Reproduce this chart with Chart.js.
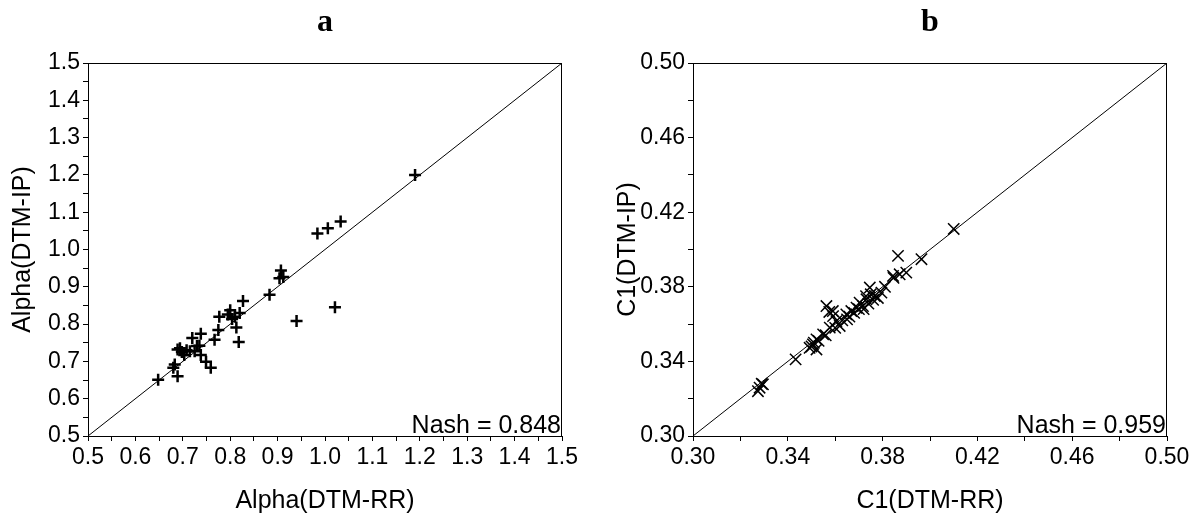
<!DOCTYPE html>
<html><head><meta charset="utf-8">
<script src="https://cdn.jsdelivr.net/npm/chart.js@4.4.1/dist/chart.umd.min.js"></script>
<style>
html,body{margin:0;padding:0;background:#fff;width:1203px;height:517px;overflow:hidden}
canvas{position:absolute;top:0}
#ca{left:0}
#cb{left:605px}
</style></head><body>
<canvas id="ca" width="600" height="517"></canvas>
<canvas id="cb" width="598" height="517"></canvas>
<script>
// ---- Panel a data: Alpha ----
const alphaRR = [1.19, 0.984, 1.006, 1.033, 0.907, 0.904, 0.912, 0.883, 0.940, 1.021,
  0.827, 0.820, 0.800, 0.804, 0.813, 0.818, 0.777, 0.775, 0.767, 0.738,
  0.720, 0.735, 0.738, 0.749, 0.759, 0.689, 0.698, 0.708, 0.715, 0.683,
  0.680, 0.689, 0.648, 0.703, 0.730, 0.795, 0.810, 0.694, 0.725];
const alphaIP = [1.20, 1.043, 1.057, 1.075, 0.944, 0.923, 0.926, 0.879, 0.808, 0.845,
  0.862, 0.830, 0.837, 0.814, 0.791, 0.752, 0.820, 0.784, 0.758, 0.774,
  0.763, 0.742, 0.717, 0.699, 0.683, 0.732, 0.725, 0.730, 0.727, 0.692,
  0.683, 0.660, 0.651, 0.717, 0.741, 0.826, 0.820, 0.735, 0.727];
// ---- Panel b data: C1 ----
const c1RR = [0.3865, 0.3964, 0.410, 0.3844, 0.3872, 0.390, 0.3846, 0.3746, 0.3795, 0.3767,
  0.3732, 0.3703, 0.3717, 0.369, 0.3668, 0.3647, 0.3563, 0.3591, 0.3605, 0.3619,
  0.3577, 0.3549, 0.3521, 0.3506, 0.3492, 0.3521, 0.3433, 0.3281, 0.3295, 0.3274,
  0.359, 0.374, 0.372, 0.376, 0.378, 0.366, 0.363, 0.370, 0.351, 0.350,
  0.353, 0.356, 0.368, 0.375, 0.381, 0.373, 0.329, 0.360, 0.365, 0.3575];
const c1IP = [0.3966, 0.3948, 0.411, 0.3858, 0.3867, 0.3876, 0.3848, 0.3796, 0.3769, 0.3751,
  0.3733, 0.3715, 0.3697, 0.3688, 0.367, 0.3652, 0.3697, 0.3643, 0.3616, 0.359,
  0.3581, 0.3545, 0.3518, 0.3491, 0.3473, 0.3464, 0.3411, 0.3259, 0.3277, 0.324,
  0.367, 0.371, 0.368, 0.373, 0.374, 0.364, 0.362, 0.368, 0.350, 0.348,
  0.351, 0.354, 0.366, 0.376, 0.380, 0.375, 0.328, 0.358, 0.3625, 0.3665];

const alphaRange = [0.5, 1.5];
const c1Range = [0.30, 0.50];
const alphaTickValues = [0.5,0.55,0.6,0.65,0.7,0.75,0.8,0.85,0.9,0.95,1.0,1.05,1.1,1.15,1.2,1.25,1.3,1.35,1.4,1.45,1.5];
const alphaTickLabels = ['0.5','0.6','0.7','0.8','0.9','1.0','1.1','1.2','1.3','1.4','1.5'];
const c1TickValues = [0.30,0.32,0.34,0.36,0.38,0.40,0.42,0.44,0.46,0.48,0.50];
const c1TickLabels = ['0.30','0.34','0.38','0.42','0.46','0.50'];

const SANS = '"Liberation Sans", Arial, sans-serif';

function makeScale(range, tickVals, labels, title, isX) {
  return {
    type: 'linear', min: range[0], max: range[1],
    border: {display: true, color: '#000', width: 1},
    grid: {display: true, drawOnChartArea: false, drawTicks: true, tickLength: 5, color: '#000', lineWidth: 1},
    afterBuildTicks: (s) => { s.ticks = tickVals.map(v => ({value: v})); },
    ticks: {
      autoSkip: false, maxRotation: 0, minRotation: 0, color: '#000',
      font: {family: SANS, size: 23}, padding: 3,
      callback: (v) => { const l = labels.find(t => Math.abs(parseFloat(t) - v) < 1e-9); return l !== undefined ? l : ''; }
    },
    title: {display: true, text: title, color: '#000', font: {family: SANS, size: 25},
      padding: isX ? {top: 0, bottom: 1} : {top: 8, bottom: 0}},
    afterFit: (s) => { if (isX) s.height = 81; else s.width = 88; }
  };
}

const framePlugin = {
  id: 'frame',
  afterDraw(chart, args, opts) {
    const {ctx, chartArea: {left, top, right, bottom}} = chart;
    ctx.save();
    ctx.strokeStyle = '#000'; ctx.lineWidth = 1;
    const t = Math.round(top) + 0.5, r = Math.round(right) - 0.5;
    ctx.beginPath();
    ctx.moveTo(left, t); ctx.lineTo(r, t); ctx.lineTo(r, bottom);
    ctx.stroke();
    ctx.fillStyle = '#000';
    ctx.font = '25px ' + SANS;
    ctx.textAlign = 'right'; ctx.textBaseline = 'alphabetic';
    ctx.fillText(opts.nash, right - 1, bottom - 3);
    ctx.font = 'bold 32px "Liberation Serif", "Times New Roman", serif';
    ctx.textAlign = 'center'; ctx.textBaseline = 'alphabetic';
    ctx.fillText(opts.label, (left + right) / 2, 31);
    ctx.restore();
  }
};

function makeChart(id, xs, ys, range, tickVals, labels, xTitle, yTitle, style, radius, bw, nash, label, rightPad) {
  return new Chart(document.getElementById(id), {
    type: 'scatter',
    data: {
      datasets: [
        {data: xs.map((x, i) => ({x: x, y: ys[i]})), pointStyle: style, pointRadius: radius,
         borderColor: '#000', backgroundColor: '#000', borderWidth: bw, order: 1},
        {data: [{x: range[0], y: range[0]}, {x: range[1], y: range[1]}], showLine: true,
         borderColor: '#000', borderWidth: 1, pointRadius: 0, order: 2}
      ]
    },
    options: {
      responsive: false, animation: false, devicePixelRatio: 1,
      layout: {padding: {top: 63, right: rightPad, left: 0, bottom: 0}},
      plugins: {legend: {display: false}, tooltip: {enabled: false}, title: {display: false},
        frame: {nash: nash, label: label}},
      scales: {
        x: makeScale(range, tickVals, labels, xTitle, true),
        y: makeScale(range, tickVals, labels, yTitle, false)
      }
    },
    plugins: [framePlugin]
  });
}

makeChart('ca', alphaRR, alphaIP, alphaRange, alphaTickValues, alphaTickLabels,
  'Alpha(DTM-RR)', 'Alpha(DTM-IP)', 'cross', 6, 2.5, 'Nash = 0.848', 'a', 38);
makeChart('cb', c1RR, c1IP, c1Range, c1TickValues, c1TickLabels,
  'C1(DTM-RR)', 'C1(DTM-IP)', 'crossRot', 8, 1.5, 'Nash = 0.959', 'b', 36);
</script>
</body></html>
